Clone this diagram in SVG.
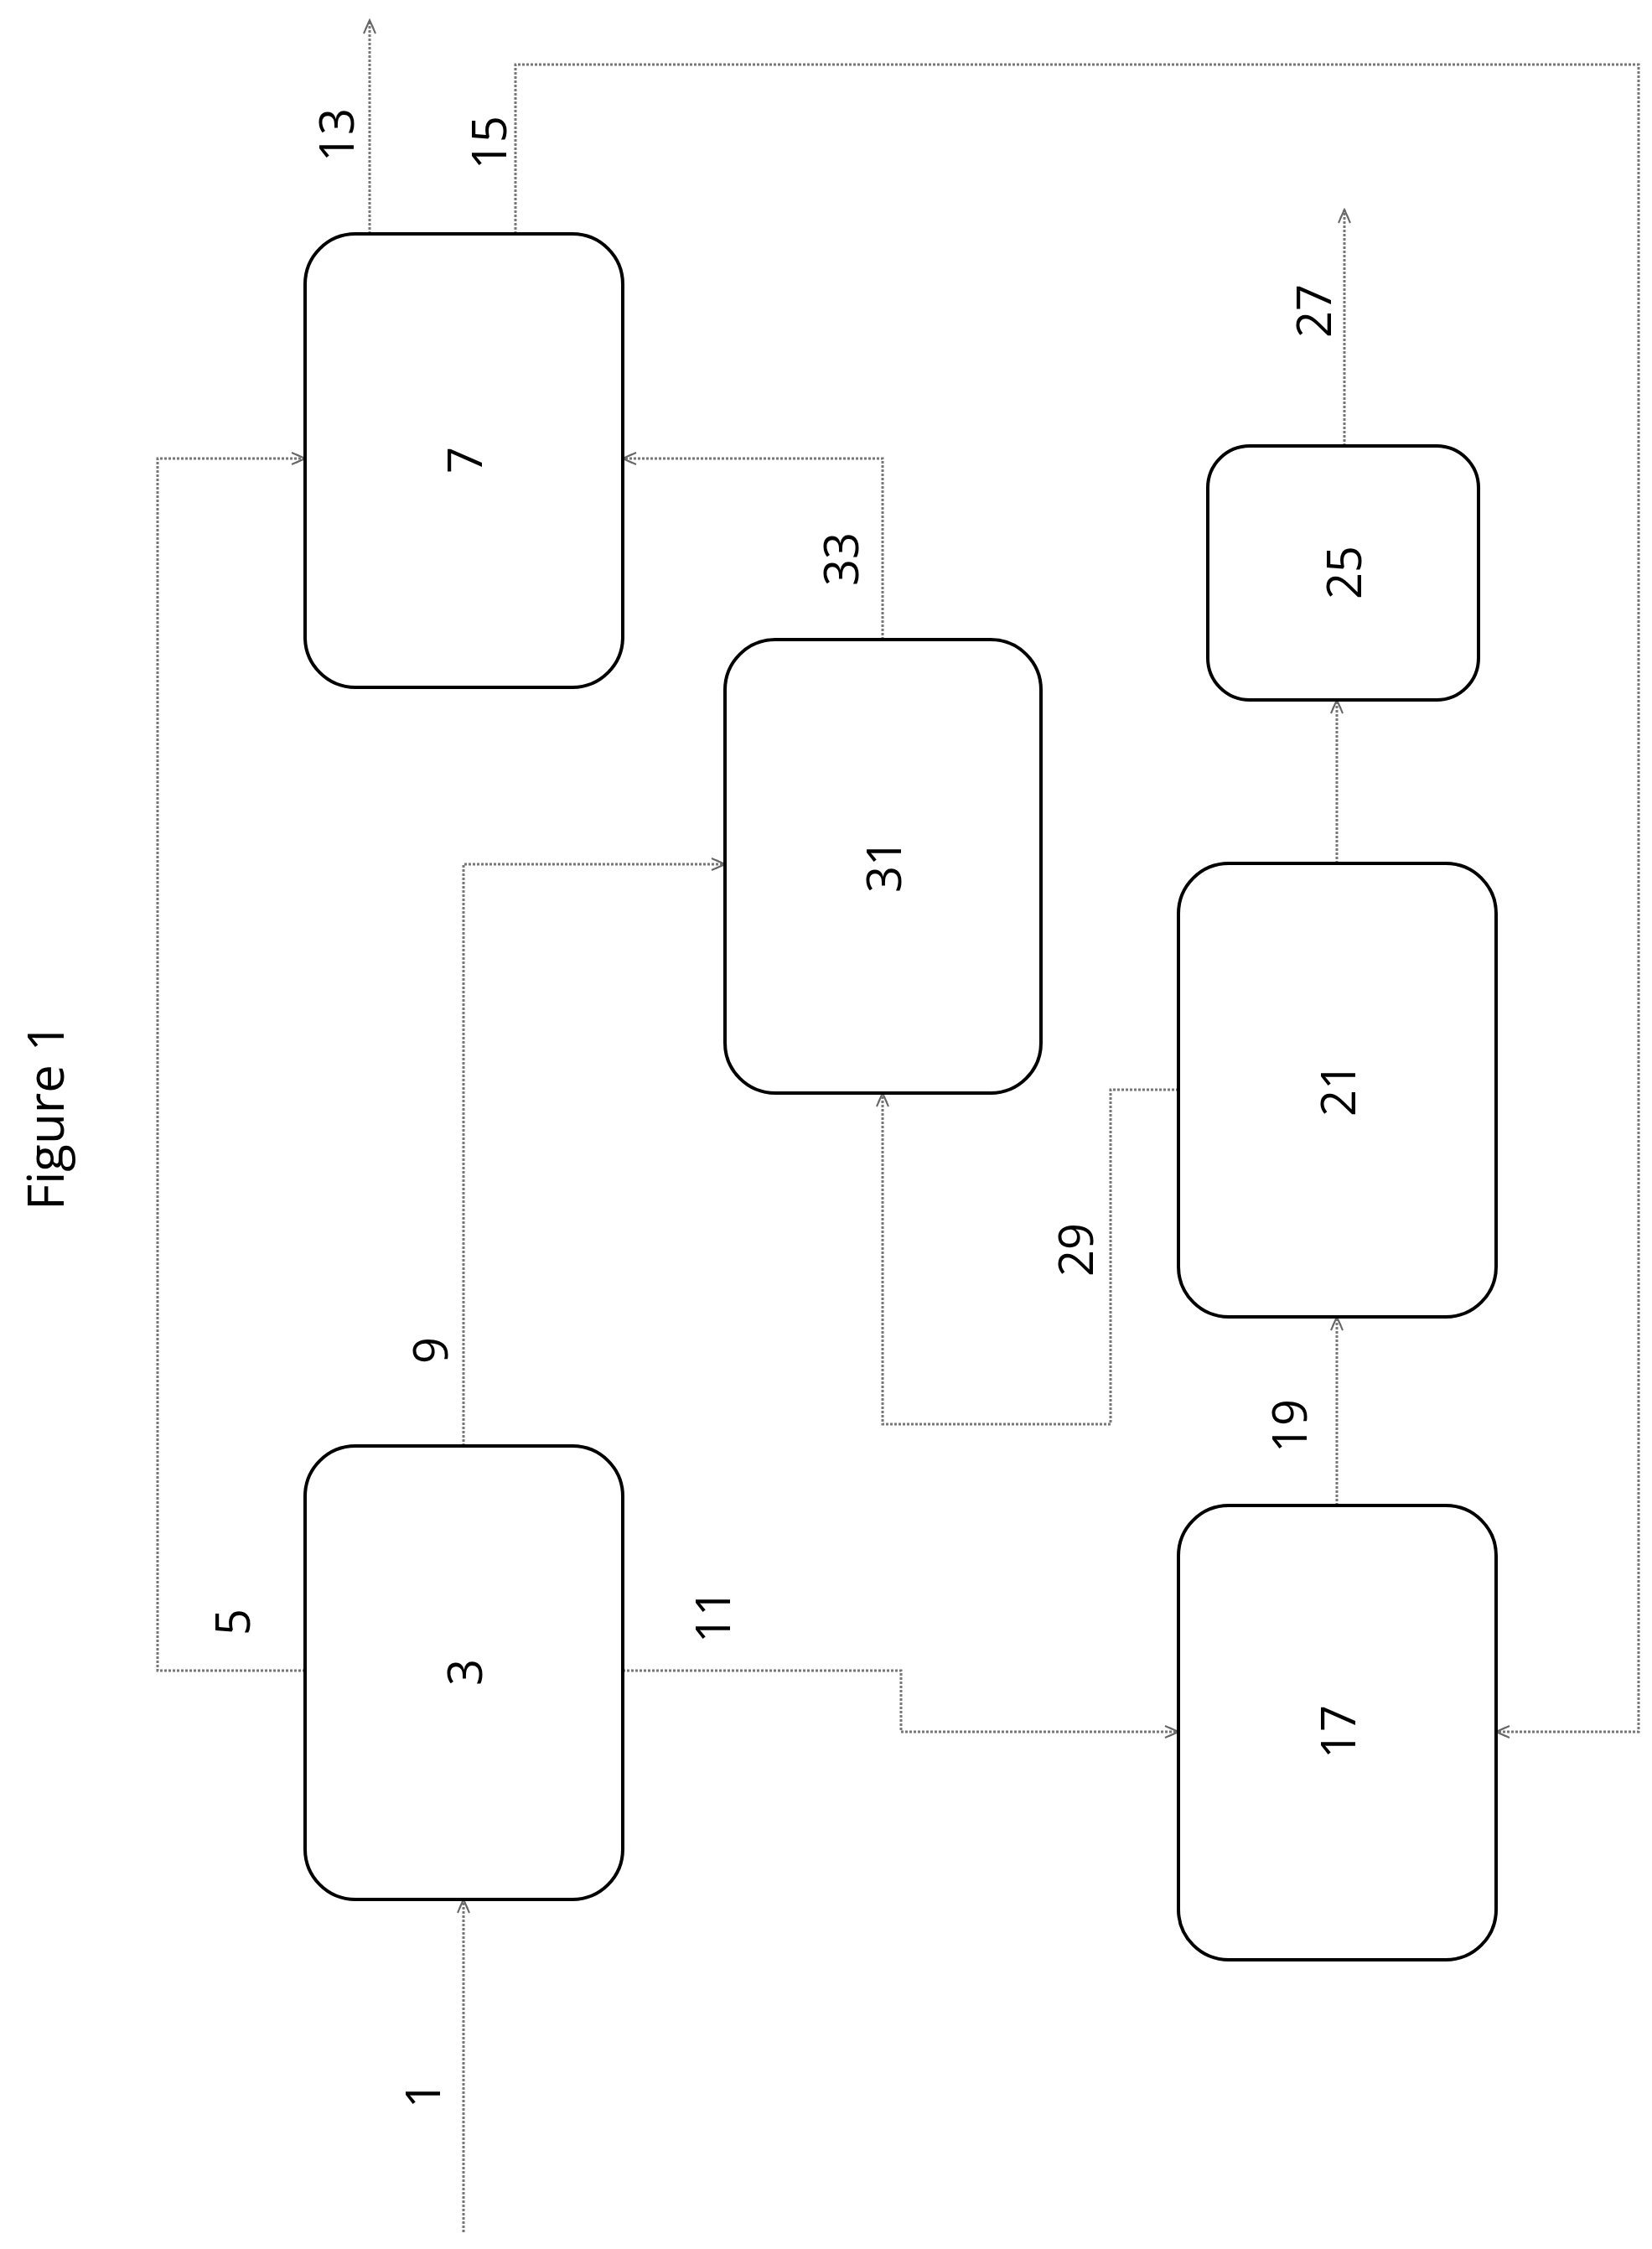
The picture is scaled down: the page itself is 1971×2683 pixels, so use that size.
<svg xmlns="http://www.w3.org/2000/svg" width="1971" height="2683" viewBox="0 0 1971 2683">
<style>
.box{fill:#fff;stroke:#000;stroke-width:4}
.c{fill:none;stroke:#777;stroke-width:3;stroke-dasharray:3 2;marker-end:url(#ah)}
.n{fill:none;stroke:#777;stroke-width:3;stroke-dasharray:3 2}
text{font-family:"Open Sans","Liberation Sans",sans-serif;font-size:56px;fill:#000;text-anchor:middle;dominant-baseline:central}
</style>
<defs>
<marker id="ah" markerWidth="20" markerHeight="16" refX="18" refY="8" orient="auto" markerUnits="userSpaceOnUse">
<path d="M2,1 L18,8 L2,15 M7,3 L18,8 L7,13" fill="none" stroke="#666" stroke-width="2"/>
</marker>
</defs>
<rect width="1971" height="2683" fill="#fff"/>
<g id="connectors">
<path class="c" d="M441,279 V24"/>
<path class="c" d="M615,279 V77 H1955 V2066 H1785"/>
<path class="c" d="M364,1993 H188 V547 H364"/>
<path class="c" d="M1053,763 V547 H743"/>
<path class="c" d="M553,1725 V1031 H865"/>
<path class="c" d="M743,1993 H1075 V2066 H1406"/>
<path class="c" d="M553,2663 V2266"/>
<path class="c" d="M1595,1796 V1571"/>
<path class="c" d="M1406,1300 H1325 V1699 H1053 V1304"/>
<path class="c" d="M1595,1030 V835"/>
<path class="c" d="M1604,532 V250"/>
</g>
<g id="n7"><rect class="box" x="364" y="279" width="379" height="541" rx="60"/><text transform="translate(553,549) rotate(-90)">7</text></g>
<g id="n31"><rect class="box" x="865" y="763" width="377" height="541" rx="60"/><text transform="translate(1053,1033) rotate(-90)">31</text></g>
<g id="n25"><rect class="box" x="1441" y="532" width="323" height="303" rx="50"/><text transform="translate(1602,683) rotate(-90)">25</text></g>
<g id="n21"><rect class="box" x="1406" y="1030" width="379" height="541" rx="60"/><text transform="translate(1595,1300) rotate(-90)">21</text></g>
<g id="n3"><rect class="box" x="364" y="1725" width="379" height="541" rx="60"/><text transform="translate(553,1995) rotate(-90)">3</text></g>
<g id="n17"><rect class="box" x="1406" y="1796" width="379" height="542" rx="60"/><text transform="translate(1595,2066) rotate(-90)">17</text></g>
<g id="labels">
<text transform="translate(400,161) rotate(-90)">13</text>
<text transform="translate(582,170) rotate(-90)">15</text>
<text transform="translate(1566,371) rotate(-90)">27</text>
<text transform="translate(1002,667) rotate(-90)">33</text>
<text transform="translate(1282,1491) rotate(-90)">29</text>
<text transform="translate(512,1611) rotate(-90)">9</text>
<text transform="translate(1537,1701) rotate(-90)">19</text>
<text transform="translate(276,1935) rotate(-90)">5</text>
<text transform="translate(849,1928) rotate(-90)">11</text>
<text transform="translate(503,2499) rotate(-90)">1</text>
<text transform="translate(53,1332) rotate(-90)" style="font-size:60px">Figure 1</text>
</g>
</svg>
